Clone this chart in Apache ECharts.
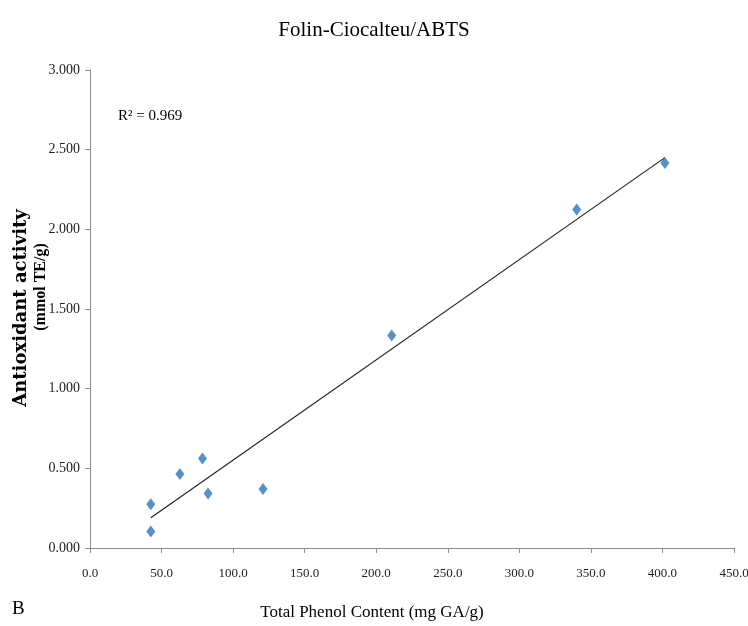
<!DOCTYPE html>
<html>
<head>
<meta charset="utf-8">
<script src="https://cdn.jsdelivr.net/npm/echarts@6/dist/echarts.min.js"></script>
<style>
  html, body { margin: 0; padding: 0; background: #fff; }
  #chart { width: 748px; height: 626px; }
</style>
</head>
<body>
<div id="chart"></div>
<script>
// 数据：总酚含量 vs 抗氧化活性
var phenol = [42.5, 42.5, 62.8, 78.6, 82.5, 120.9, 210.8, 340.1, 401.7];
var activity = [0.275, 0.103, 0.464, 0.562, 0.342, 0.371, 1.333, 2.124, 2.417];
// 趋势线两端
var trendX = [42.5, 401.7];
var trendY = [0.19, 2.45];
var rSquared = 'R² = 0.969';

var serif = '"Liberation Serif", "DejaVu Serif", serif';

var points = phenol.map(function (x, i) { return [x, activity[i]]; });
var trend = trendX.map(function (x, i) { return [x, trendY[i]]; });

var myChart = echarts.init(document.getElementById('chart'));
var option = {
    backgroundColor: '#fff',
    animation: false,
    title: {
        text: 'Folin-Ciocalteu/ABTS',
        left: 'center',
        top: 15,
        textStyle: { fontFamily: serif, fontSize: 21, fontWeight: 'normal', color: '#000' }
    },
    grid: { left: 90, right: 14, top: 70, bottom: 78, outerBoundsMode: 'none' },
    xAxis: {
        type: 'value',
        min: 0,
        max: 450,
        interval: 50,
        axisLine: { lineStyle: { color: '#8c8c8c' } },
        axisTick: { length: 5, lineStyle: { color: '#8c8c8c' } },
        axisLabel: {
            fontFamily: serif, fontSize: 13, color: '#222', margin: 19,
            formatter: function (v) { return v.toFixed(1); }
        },
        splitLine: { show: false }
    },
    yAxis: {
        type: 'value',
        min: 0,
        max: 3,
        interval: 0.5,
        axisLine: { show: true, lineStyle: { color: '#8c8c8c' } },
        axisTick: { show: true, length: 5, lineStyle: { color: '#8c8c8c' } },
        axisLabel: {
            fontFamily: serif, fontSize: 14, color: '#222', margin: 10,
            formatter: function (v) { return v.toFixed(3); }
        },
        splitLine: { show: false }
    },
    graphic: [
        {
            type: 'text', x: 21, y: 308, rotation: Math.PI / 2,
            style: {
                text: 'Antioxidant activity',
                font: 'bold 18px "DejaVu Serif", serif',
                fill: '#000', align: 'center', verticalAlign: 'middle'
            }
        },
        {
            type: 'text', x: 41, y: 287, rotation: Math.PI / 2,
            style: {
                text: '(mmol TE/g)',
                font: 'bold 16px ' + serif,
                fill: '#000', align: 'center', verticalAlign: 'middle'
            }
        },
        {
            type: 'text', x: 372, y: 613,
            style: {
                text: 'Total Phenol Content (mg GA/g)',
                font: '17px ' + serif,
                fill: '#000', align: 'center', verticalAlign: 'middle'
            }
        },
        {
            type: 'text', x: 118, y: 116,
            style: { text: rSquared, font: '15px ' + serif, fill: '#000', verticalAlign: 'middle' }
        },
        {
            type: 'text', x: 12, y: 609,
            style: { text: 'B', font: '19px ' + serif, fill: '#000', verticalAlign: 'middle' }
        }
    ],
    series: [
        {
            name: 'trend',
            type: 'line',
            data: trend,
            symbol: 'none',
            lineStyle: { color: '#222', width: 1.2 },
            z: 1
        },
        {
            name: 'samples',
            type: 'scatter',
            data: points,
            symbol: 'diamond',
            symbolSize: [9, 12],
            itemStyle: { color: '#2e75b6' },
            z: 2
        }
    ]
};
myChart.setOption(option);
</script>
</body>
</html>
